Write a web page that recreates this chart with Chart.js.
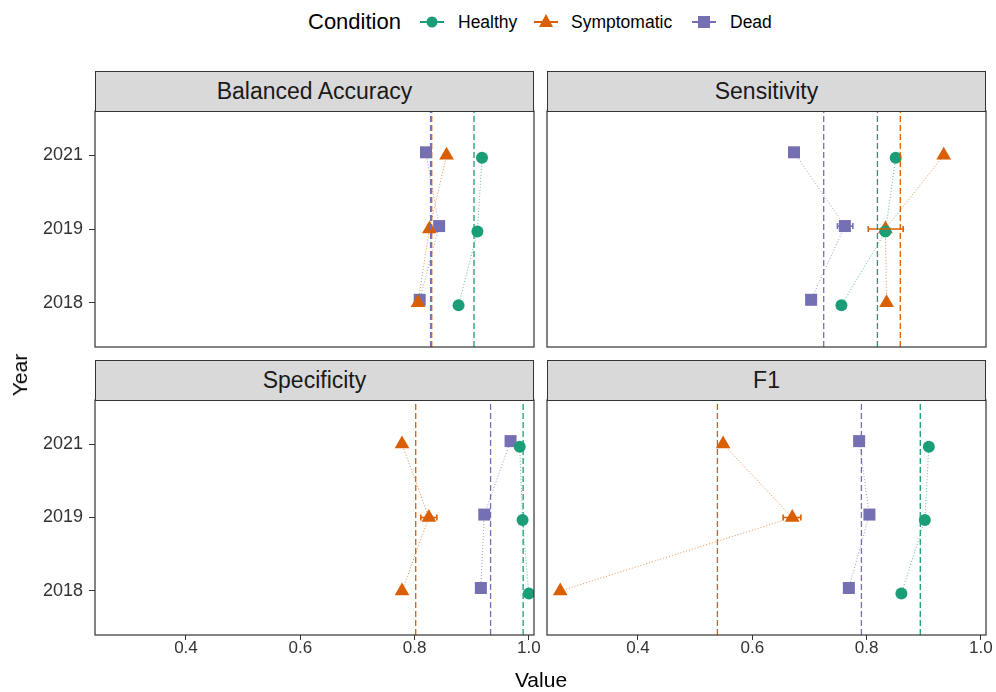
<!DOCTYPE html>
<html>
<head>
<meta charset="utf-8">
<script src="https://cdn.jsdelivr.net/npm/chart.js@4.4.0/dist/chart.umd.min.js"></script>
<style>
    body { margin: 0; background: #fff; width: 996px; height: 692px; position: relative; overflow: hidden;
           font-family: "Liberation Sans", Arial, sans-serif; }
    canvas { position: absolute; }
    .strip { position: absolute; box-sizing: border-box; width: 439px; height: 41px; background: #d9d9d9;
             border: 1.3px solid #333; color: #1a1a1a; font-size: 23px; text-align: center; line-height: 39px; }
    .txt { position: absolute; white-space: nowrap; color: #000; }
    .leg { position: absolute; top: 12px; font-size: 17.5px; line-height: 20px; color: #000; }
    svg { position: absolute; }
</style>
</head>
<body>
<canvas id="c0" width="556" height="255" style="left:0;top:100px"></canvas>
<canvas id="c1" width="466" height="255" style="left:530px;top:100px"></canvas>
<canvas id="c2" width="556" height="300" style="left:0;top:390px"></canvas>
<canvas id="c3" width="466" height="300" style="left:530px;top:390px"></canvas>

<div class="strip" style="left:95px;top:71px">Balanced Accuracy</div>
<div class="strip" style="left:547px;top:71px">Sensitivity</div>
<div class="strip" style="left:95px;top:360px">Specificity</div>
<div class="strip" style="left:547px;top:360px">F1</div>

<div class="txt" style="left:308px;top:9px;font-size:22px">Condition</div>
<svg width="24" height="16" style="left:420px;top:14px"><line x1="0" y1="8" x2="24" y2="8" stroke="#1B9E77" stroke-width="2"/><circle cx="12" cy="8" r="5.5" fill="#1B9E77"/></svg>
<div class="leg" style="left:458px">Healthy</div>
<svg width="24" height="16" style="left:534px;top:13px"><line x1="0" y1="9" x2="24" y2="9" stroke="#D95F02" stroke-width="2"/><polygon points="12,1 19,14 5,14" fill="#D95F02"/></svg>
<div class="leg" style="left:571px">Symptomatic</div>
<svg width="24" height="16" style="left:692px;top:14px"><line x1="0" y1="8" x2="24" y2="8" stroke="#7570B3" stroke-width="2"/><rect x="6" y="2" width="12" height="12" fill="#7570B3"/></svg>
<div class="leg" style="left:730px">Dead</div>

<div class="txt" style="left:541px;top:668px;font-size:21px;transform:translateX(-50%)">Value</div>
<div class="txt" style="left:20px;top:375px;font-size:21px;transform:translate(-50%,-50%) rotate(-90deg)">Year</div>

<script>
// --- data ---
const years = ['2018', '2019', '2021'];
const yearPos = [1, 2, 3];
const conditions = ['Healthy', 'Symptomatic', 'Dead'];
const xTicks = [0.4, 0.6, 0.8, 1.0];

// values by year (2018, 2019, 2021)
const balAccHealthy = [0.877, 0.910, 0.918];
const balAccSymptomatic = [0.806, 0.826, 0.856];
const balAccDead = [0.809, 0.843, 0.820];
const balAccMean = [0.904, 0.830, 0.828]; // Healthy, Symptomatic, Dead

const sensHealthy = [0.756, 0.833, 0.851];
const sensSymptomatic = [0.835, 0.833, 0.935];
const sensDead = [0.703, 0.762, 0.673];
const sensMean = [0.819, 0.859, 0.725];
const sensErrSymptomatic2019 = [0.803, 0.864];
const sensErrDead2019 = [0.749, 0.776];

const specHealthy = [1.000, 0.989, 0.984];
const specSymptomatic = [0.778, 0.825, 0.778];
const specDead = [0.916, 0.922, 0.968];
const specMean = [0.990, 0.802, 0.933];
const specErrSymptomatic2019 = [0.811, 0.839];

const f1Healthy = [0.861, 0.902, 0.909];
const f1Symptomatic = [0.264, 0.670, 0.549];
const f1Dead = [0.769, 0.805, 0.787];
const f1Mean = [0.894, 0.539, 0.791];
const f1ErrSymptomatic2019 = [0.654, 0.685];

const colors = ['#1B9E77', '#D95F02', '#7570B3'];
const faded = ['rgba(27,158,119,0.7)', 'rgba(217,95,2,0.7)', 'rgba(117,112,179,0.7)'];
const shapes = ['circle', 'triangle', 'rect'];
const radii = [6, 8.5, 8.5];
const dodge = [-0.035, 0, 0.04]; // small vertical dodge per condition
const FONT = '"Liberation Sans", Arial, sans-serif';

const panelBorder = {
    id: 'panelBorder',
    afterDraw(chart) {
        const a = chart.chartArea, ctx = chart.ctx;
        ctx.save();
        ctx.strokeStyle = '#333';
        ctx.lineWidth = 1.2;
        ctx.strokeRect(a.left, a.top, a.right - a.left, a.bottom - a.top);
        ctx.restore();
    }
};

function noPad(a) {
    a.paddingTop = 0; a.paddingBottom = 0; a.paddingLeft = 0; a.paddingRight = 0;
}

function errorBar(range, condIdx) {
    const y = 2 + dodge[condIdx];
    return {
        data: [{x: range[0], y: y}, {x: range[1], y: y}],
        showLine: true, borderColor: colors[condIdx], borderWidth: 1.6,
        pointStyle: 'line', pointRotation: 90, pointRadius: 3,
        pointBorderColor: colors[condIdx], pointBorderWidth: 1.6
    };
}

function buildDatasets(vals, means, errs) {
    let ds = [];
    // mean lines
    means.forEach((m, i) => {
        ds.push({
            data: [{x: m, y: 0.4}, {x: m, y: 3.6}], showLine: true,
            borderColor: colors[i], borderWidth: 1.3, borderDash: [6, 3], pointRadius: 0
        });
    });
    // dotted connections between years
    vals.forEach((v, i) => {
        ds.push({
            data: v.map((x, k) => ({x: x, y: yearPos[k] + dodge[i]})), showLine: true,
            borderColor: faded[i], borderWidth: 1, borderDash: [1, 2], pointRadius: 0
        });
    });
    errs.forEach(e => ds.push(errorBar(e[0], e[1])));
    // points
    vals.forEach((v, i) => {
        ds.push({
            data: v.map((x, k) => ({x: x, y: yearPos[k] + dodge[i]})), showLine: false,
            pointStyle: shapes[i], pointRadius: radii[i], pointBackgroundColor: colors[i],
            pointBorderColor: colors[i], pointBorderWidth: 0
        });
    });
    return ds;
}

function makeChart(id, datasets, col, row) {
    const padding = col === 0 ? {left: 0, right: 22} : {left: 17, right: 10};
    padding.top = row === 0 ? 11 : 10;
    padding.bottom = row === 0 ? 8 : 5;
    new Chart(document.getElementById(id), {
        type: 'scatter',
        data: {datasets: datasets},
        options: {
            responsive: false, animation: false, events: [],
            layout: {padding: padding, autoPadding: false},
            plugins: {legend: {display: false}, tooltip: {enabled: false}},
            scales: {
                x: {
                    type: 'linear', min: 0.2408, max: 1.009, display: row === 1,
                    afterBuildTicks: (a) => { a.ticks = xTicks.map(v => ({value: v})); },
                    afterFit: (a) => { a.height = row === 1 ? 50 : 0; noPad(a); },
                    grid: {drawOnChartArea: false, drawTicks: true, tickLength: 5, color: '#333'},
                    border: {display: false},
                    ticks: {color: '#333', font: {size: 17, family: FONT}, padding: -2,
                            maxRotation: 0, autoSkip: false, callback: v => v.toFixed(1)}
                },
                y: {
                    type: 'linear', min: 0.4, max: 3.6, display: col === 0,
                    afterBuildTicks: (a) => { a.ticks = yearPos.map(v => ({value: v})); },
                    afterFit: (a) => { a.width = col === 0 ? 95 : 0; noPad(a); },
                    grid: {drawOnChartArea: false, drawTicks: true, tickLength: 6, color: '#333'},
                    border: {display: false},
                    ticks: {color: '#333', font: {size: 18, family: FONT}, padding: 6,
                            autoSkip: false, callback: v => years[yearPos.indexOf(v)]}
                }
            }
        },
        plugins: [panelBorder]
    });
}

makeChart('c0', buildDatasets([balAccHealthy, balAccSymptomatic, balAccDead], balAccMean, []), 0, 0);
makeChart('c1', buildDatasets([sensHealthy, sensSymptomatic, sensDead], sensMean,
    [[sensErrSymptomatic2019, 1], [sensErrDead2019, 2]]), 1, 0);
makeChart('c2', buildDatasets([specHealthy, specSymptomatic, specDead], specMean,
    [[specErrSymptomatic2019, 1]]), 0, 1);
makeChart('c3', buildDatasets([f1Healthy, f1Symptomatic, f1Dead], f1Mean,
    [[f1ErrSymptomatic2019, 1]]), 1, 1);
</script>
</body>
</html>
